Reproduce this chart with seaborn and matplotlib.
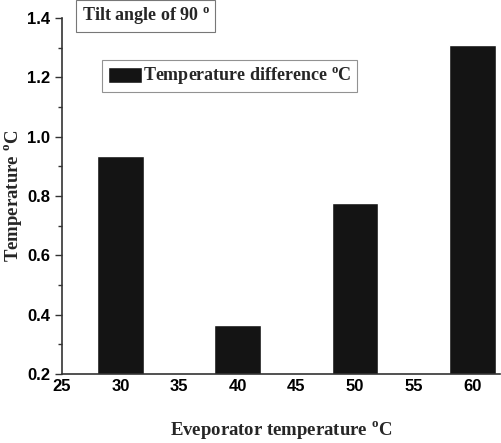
import matplotlib
matplotlib.use('Agg')
import matplotlib.pyplot as plt
import seaborn as sns
import pandas as pd
from matplotlib.ticker import MultipleLocator

# data
evap_temp = [30, 40, 50, 60]
temp_diff = [0.935, 0.365, 0.775, 1.31]

df = pd.DataFrame({"evap": evap_temp, "diff": temp_diff})

sns.set_style("white")
plt.rcParams['mathtext.fontset'] = 'custom'
plt.rcParams['mathtext.rm'] = 'Liberation Serif:bold'
plt.rcParams['mathtext.bf'] = 'Liberation Serif:bold'

fig = plt.figure(figsize=(5.02, 4.43), dpi=100)
ax = fig.add_axes([0.1235, 0.156, 0.873, 0.803])

sns.barplot(data=df, x="evap", y="diff", native_scale=True, width=0.4,
            color="#141414", saturation=1, ax=ax,
            label=r"Temperature difference $^{\rm o}$C")

ax.set_xlim(25, 62.4)
ax.set_ylim(0.2, 1.4)
ax.xaxis.set_major_locator(MultipleLocator(5))
ax.xaxis.set_minor_locator(MultipleLocator(2.5))
ax.yaxis.set_major_locator(MultipleLocator(0.2))
ax.yaxis.set_minor_locator(MultipleLocator(0.1))
ax.set_yticklabels([f"{v:.1f}" for v in ax.get_yticks()])

for s in ["top", "right"]:
    ax.spines[s].set_visible(False)
for s in ["left", "bottom"]:
    ax.spines[s].set_color("#333333")
    ax.spines[s].set_linewidth(1.2)

ax.tick_params(axis='x', which='both', direction='in', colors="#333333",
               labelcolor='black')
ax.tick_params(axis='x', which='major', length=5, width=1)
ax.tick_params(axis='x', which='minor', length=3, width=1)
ax.tick_params(axis='y', which='both', direction='out', colors="#333333",
               labelcolor='black', left=True)
ax.tick_params(axis='y', which='major', length=5, width=1)
ax.tick_params(axis='y', which='minor', length=3, width=1)

for lab in ax.get_xticklabels() + ax.get_yticklabels():
    lab.set_fontfamily("Liberation Sans")
    lab.set_fontweight("bold")
    lab.set_fontsize(12)

ax.set_xlabel(r"Eveporator temperature $^{\rm o}$C", fontfamily="Liberation Serif",
              fontweight="bold", fontsize=13.5, labelpad=18)
ax.set_ylabel(r"Temperature $^{\rm o}$C", fontfamily="Liberation Serif",
              fontweight="bold", fontsize=13.5, labelpad=2)

leg = ax.legend(loc="upper left", bbox_to_anchor=(0.092, 0.882), frameon=True,
                fancybox=False, handlelength=1.9, handleheight=1.0,
                handletextpad=0.05, borderpad=0.3, borderaxespad=0,
                prop={"family": "Liberation Serif", "weight": "bold", "size": 13})
leg.get_frame().set_edgecolor("#777777")
leg.get_frame().set_linewidth(0.8)

ax.text(0.045, 1.035, r"Tilt angle of 90 $^{\rm o}$", transform=ax.transAxes,
        ha="left", va="top", fontfamily="Liberation Serif", fontweight="bold",
        fontsize=13,
        bbox=dict(boxstyle="square,pad=0.3", facecolor="white",
                  edgecolor="#777777", linewidth=0.8))

plt.savefig("out.png", dpi=100)
